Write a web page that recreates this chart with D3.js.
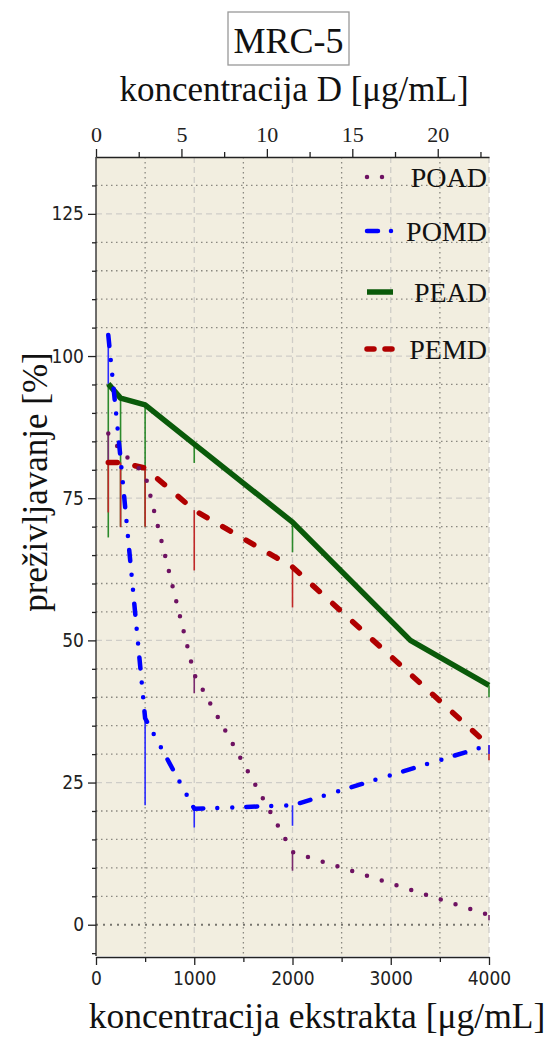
<!DOCTYPE html>
<html>
<head>
<meta charset="utf-8">
<script src="https://cdn.jsdelivr.net/npm/d3@7"></script>
<style>
  html, body { margin: 0; padding: 0; background: #ffffff; }
  svg { display: block; }
</style>
</head>
<body>
<svg id="chart" width="549" height="1040"></svg>
<script>
// Extract concentrations (µg/mL) and cell survival (%) per extract
const poadX = [125, 250, 500, 1000, 2000, 4000];
const poadY = [86.4, 83.3, 79.2, 44.0, 12.8, 1.7];
const poadErr = [5.0, 0, 0, 3.3, 3.3, 0.9];

const pomdX = [125, 250, 500, 1000, 2000, 4000];
const pomdY = [103.7, 82.0, 36.3, 20.4, 21.0, 31.6];
const pomdErr = [8.6, 0, 15.3, 3.3, 3.6, 1.6];

const peadX = [125, 250, 500, 1000, 2000, 3200, 4000];
const peadY = [95.1, 92.6, 91.4, 84.5, 70.8, 50.0, 42.1];
const peadErr = [27.0, 22.6, 21.4, 3.3, 5.3, 0, 2.1];

const pemdX = [125, 250, 500, 1000, 2000, 4000];
const pemdY = [81.3, 81.3, 80.3, 72.9, 62.9, 31.5];
const pemdErr = [8.8, 11.4, 10.3, 10.6, 7.1, 2.6];

// Axis ticks
const bottomTicks = [0, 1000, 2000, 3000, 4000];
const bottomMinor = [500, 1500, 2500, 3500];
const topTicks = [0, 5, 10, 15, 20];
const topMinor = [2.5, 7.5, 12.5, 17.5, 22.5];
const leftTicks = [0, 25, 50, 75, 100, 125];

const titleText = "MRC-5";
const topTitle = "koncentracija D [μg/mL]";
const bottomTitle = "koncentracija ekstrakta [μg/mL]";
const leftTitle = "preživljavanje [%]";

const SERIF = '"Liberation Serif", "Times New Roman", serif';
const SANS = '"DejaVu Sans Condensed", "DejaVu Sans", sans-serif';

const svg = d3.select("#chart");

const plot = { left: 96, right: 489, top: 157, bottom: 956 };

const x = d3.scaleLinear().domain([0, 4000]).range([plot.left, plot.right]);
const xTop = d3.scaleLinear().domain([0, 23]).range([plot.left, plot.right]);
const y = d3.scaleLinear().domain([-5.5, 135]).range([plot.bottom, plot.top]);

// Plot background
svg.append("rect")
  .attr("x", plot.left).attr("y", plot.top)
  .attr("width", plot.right - plot.left).attr("height", plot.bottom - plot.top)
  .attr("fill", "#f2eee0");

// Grid
const grid = svg.append("g");
const minorY = d3.range(5, 135, 5).filter(v => v % 25 !== 0);
grid.selectAll(".gy-minor").data(minorY).join("line")
  .attr("x1", plot.left).attr("x2", plot.right)
  .attr("y1", d => y(d)).attr("y2", d => y(d))
  .attr("stroke", "#8a8880").attr("stroke-width", 1.3).attr("stroke-dasharray", "1.5 3.5");
grid.selectAll(".gy-major").data(leftTicks.filter(v => v > 0)).join("line")
  .attr("x1", plot.left).attr("x2", plot.right)
  .attr("y1", d => y(d)).attr("y2", d => y(d))
  .attr("stroke", "#cfcdc8").attr("stroke-width", 1.3).attr("stroke-dasharray", "6 4");
grid.append("line")
  .attr("x1", plot.left).attr("x2", plot.right)
  .attr("y1", y(0)).attr("y2", y(0))
  .attr("stroke", "#77756e").attr("stroke-width", 2).attr("stroke-dasharray", "2 5");
grid.selectAll(".gx-minor").data(bottomMinor).join("line")
  .attr("y1", plot.top).attr("y2", plot.bottom)
  .attr("x1", d => x(d)).attr("x2", d => x(d))
  .attr("stroke", "#8a8880").attr("stroke-width", 1.3).attr("stroke-dasharray", "1.5 3.5");
grid.selectAll(".gx-major").data(bottomTicks.filter(v => v > 0)).join("line")
  .attr("y1", plot.top).attr("y2", plot.bottom)
  .attr("x1", d => x(d)).attr("x2", d => x(d))
  .attr("stroke", "#cfcdc8").attr("stroke-width", 1.3).attr("stroke-dasharray", "6 4");

// Series definitions
const series = [
  { name: "POAD", xs: poadX, ys: poadY, err: poadErr, color: "#6e1262", bar: "#7a2a6e",
    width: 4.5, dash: "0 15.5", cap: "round", legendDash: "0 15" },
  { name: "POMD", xs: pomdX, ys: pomdY, err: pomdErr, color: "#0000ff", bar: "#2a2aff",
    width: 4.5, dash: "11 14 0 15 0 14", cap: "round", legendDash: "11 13 0 40" },
  { name: "PEAD", xs: peadX, ys: peadY, err: peadErr, color: "#0a5a0a", bar: "#2c8a2c",
    width: 5.5, dash: null, cap: "butt", legendDash: null },
  { name: "PEMD", xs: pemdX, ys: pemdY, err: pemdErr, color: "#b00000", bar: "#c02828",
    width: 5.5, dash: "9 18", cap: "round", legendDash: "7 11" }
];
series.forEach(s => { s.points = s.xs.map((v, i) => ({ x: v, y: s.ys[i], e: s.err[i] })); });
const byName = n => series.find(d => d.name === n);

// Error bars (drawn downward from each value)
const barsG = svg.append("g");
["PEAD", "PEMD", "POAD", "POMD"].forEach(n => {
  const s = byName(n);
  barsG.append("g").selectAll("line").data(s.points.filter(p => p.e > 0)).join("line")
    .attr("x1", d => x(d.x)).attr("x2", d => x(d.x))
    .attr("y1", d => y(d.y)).attr("y2", d => y(d.y - d.e))
    .attr("stroke", s.bar).attr("stroke-width", 1.6);
});

// Curves
const line = d3.line().x(d => x(d.x)).y(d => y(d.y));
const linesG = svg.append("g");
["PEAD", "PEMD", "POAD", "POMD"].forEach(n => {
  const s = byName(n);
  linesG.append("path").datum(s.points)
    .attr("d", line)
    .attr("fill", "none")
    .attr("stroke", s.color)
    .attr("stroke-width", s.width)
    .attr("stroke-linecap", s.cap)
    .attr("stroke-linejoin", "round")
    .attr("stroke-dasharray", s.dash);
});

// Left axis
const leftMinor = svg.append("g").attr("transform", `translate(${plot.left},0)`)
  .call(d3.axisLeft(y).tickValues(d3.range(-5, 135, 5).filter(v => v % 25 !== 0)).tickSize(4).tickFormat(""));
leftMinor.select(".domain").remove();
const leftMajor = svg.append("g").attr("transform", `translate(${plot.left},0)`)
  .call(d3.axisLeft(y).tickValues(leftTicks).tickSize(8).tickPadding(4).tickFormat(d3.format("d")));
leftMajor.select(".domain").remove();
leftMajor.selectAll("text")
  .style("font-family", SANS).style("font-stretch", "condensed")
  .attr("font-size", 19).attr("fill", "#222");
svg.append("line")
  .attr("x1", plot.left).attr("x2", plot.left)
  .attr("y1", plot.top).attr("y2", plot.bottom)
  .attr("stroke", "#222").attr("stroke-width", 1.3);

// Bottom axis
const bottomY = plot.bottom + 1;
const bMinor = svg.append("g").attr("transform", `translate(0,${bottomY})`)
  .call(d3.axisBottom(x).tickValues(bottomMinor).tickSize(5).tickFormat(""));
bMinor.select(".domain").remove();
const bMajor = svg.append("g").attr("transform", `translate(0,${bottomY})`)
  .call(d3.axisBottom(x).tickValues(bottomTicks).tickSize(8).tickPadding(7).tickSizeOuter(0)
    .tickFormat(d3.format("d")));
bMajor.select(".domain").attr("stroke", "#222").attr("stroke-width", 1.3);
bMajor.selectAll("text")
  .style("font-family", SANS).style("font-stretch", "condensed")
  .attr("font-size", 19).attr("fill", "#222");

// Top axis (D concentration)
const topY = plot.top;
const tMinor = svg.append("g").attr("transform", `translate(0,${topY})`)
  .call(d3.axisTop(xTop).tickValues(topMinor).tickSize(5).tickFormat(""));
tMinor.select(".domain").remove();
const tMajor = svg.append("g").attr("transform", `translate(0,${topY})`)
  .call(d3.axisTop(xTop).tickValues(topTicks).tickSize(8).tickPadding(7).tickSizeOuter(0)
    .tickFormat(d3.format("d")));
tMajor.select(".domain").attr("stroke", "#222").attr("stroke-width", 1.3);
tMajor.selectAll("text")
  .style("font-family", SERIF)
  .attr("font-size", 22).attr("fill", "#222");
svg.selectAll(".tick line").attr("stroke", "#222").attr("stroke-width", 1.3);

// Titles
const titleG = svg.append("g").style("font-family", SERIF).attr("fill", "#111");
titleG.append("rect")
  .attr("x", 228).attr("y", 12).attr("width", 121).attr("height", 53)
  .attr("fill", "#ffffff").attr("stroke", "#999").attr("stroke-width", 1.3);
titleG.append("text")
  .attr("x", 288.5).attr("y", 53).attr("text-anchor", "middle")
  .attr("font-size", 36).text(titleText);
titleG.append("text")
  .attr("x", 294).attr("y", 101).attr("text-anchor", "middle")
  .attr("font-size", 35).text(topTitle);
titleG.append("text")
  .attr("x", 317).attr("y", 1028).attr("text-anchor", "middle")
  .attr("font-size", 35.5).text(bottomTitle);
titleG.append("text")
  .attr("transform", "translate(47,482) rotate(-90)")
  .attr("text-anchor", "middle")
  .attr("font-size", 35).text(leftTitle);

// Legend
const legendRows = [177, 231, 292, 349];
const legend = svg.append("g").style("font-family", SERIF).attr("fill", "#111");
series.forEach((s, i) => {
  const ly = legendRows[i];
  legend.append("line")
    .attr("x1", 367).attr("x2", 393).attr("y1", ly).attr("y2", ly)
    .attr("stroke", s.color).attr("stroke-width", s.width)
    .attr("stroke-linecap", s.cap)
    .attr("stroke-dasharray", s.legendDash);
  legend.append("text")
    .attr("x", 487).attr("y", ly + 10).attr("text-anchor", "end")
    .attr("font-size", 28).text(s.name);
});
</script>
</body>
</html>
